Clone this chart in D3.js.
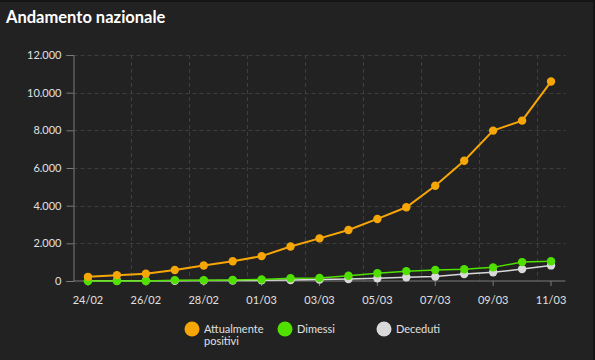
<!DOCTYPE html>
<html>
<head>
<meta charset="utf-8">
<script src="https://cdn.jsdelivr.net/npm/d3@7"></script>
<style>
  html, body { margin: 0; padding: 0; background: #222222; }
  svg { display: block; }
  .axis text { fill: #e0e0e0; font-family: Lato, 'Open Sans', sans-serif; font-size: 11px; }
</style>
</head>
<body>
<svg id="chart"></svg>
<script>
const W = 595
const H = 360
const margin = { top: 55, left: 73.5, right: 29.5, bottom: 79 }

// data
const dates = ['24/02', '25/02', '26/02', '27/02', '28/02', '29/02', '01/03', '02/03', '03/03',
  '04/03', '05/03', '06/03', '07/03', '08/03', '09/03', '10/03', '11/03']
const positivi = [221, 311, 385, 588, 821, 1049, 1320, 1835, 2263, 2706, 3296, 3916, 5061, 6387, 7985, 8514, 10590]
const dimessi = [1, 1, 3, 45, 46, 50, 83, 149, 160, 276, 414, 523, 589, 622, 724, 1004, 1045]
const deceduti = [7, 10, 12, 17, 21, 29, 34, 52, 79, 107, 148, 197, 233, 366, 463, 631, 827]
const yTicks = [0, 2000, 4000, 6000, 8000, 10000, 12000]
const xTickLabels = ['24/02', '26/02', '28/02', '01/03', '03/03', '05/03', '07/03', '09/03', '11/03']
const seriesNames = ['Attualmente positivi', 'Dimessi', 'Deceduti']
const colors = ['#f7a608', '#50e000', '#d9d9d9']

const svg = d3.select('#chart').attr('width', W).attr('height', H)

// frame
svg.append('rect').attr('width', W).attr('height', H).attr('fill', '#222222')
svg.append('rect').attr('width', W).attr('height', 2).attr('fill', '#141414')
svg.append('rect').attr('x', W - 2).attr('width', 2).attr('height', H).attr('fill', '#141414')

svg.append('text')
  .text('Andamento nazionale')
  .attr('x', 6)
  .attr('y', 23)
  .attr('fill', '#ffffff')
  .attr('font-family', 'Lato, "Open Sans", sans-serif')
  .attr('font-weight', 'bold')
  .attr('font-size', 16.5)

// scales
const xBand = d3.scaleBand().domain(dates).range([margin.left, W - margin.right])
const x = d => xBand(d) + xBand.bandwidth() / 2
const y = d3.scaleLinear().domain([0, 12000]).range([H - margin.bottom, margin.top])
const fmt = d3.formatLocale({ decimal: ',', thousands: '.', grouping: [3], currency: ['€', ''] }).format(',d')

// grid
const grid = svg.append('g').attr('stroke', '#3e3e3e').attr('stroke-dasharray', '4,3').attr('stroke-width', 1)
grid.selectAll('line.h')
  .data(yTicks.filter(d => d > 0))
  .enter().append('line')
  .attr('x1', margin.left).attr('x2', W - margin.right)
  .attr('y1', d => Math.round(y(d)) + 0.5).attr('y2', d => Math.round(y(d)) + 0.5)
grid.selectAll('line.v')
  .data(xTickLabels.slice(1))
  .enter().append('line')
  .attr('x1', d => Math.round(xBand(d)) + 0.5).attr('x2', d => Math.round(xBand(d)) + 0.5)
  .attr('y1', margin.top).attr('y2', H - margin.bottom)

// axes
const yAxis = svg.append('g')
  .attr('class', 'axis')
  .attr('transform', 'translate(' + margin.left + ',0)')
  .call(d3.axisLeft(y).tickValues(yTicks).tickFormat(fmt).tickSize(7).tickPadding(5))
yAxis.selectAll('line, path').attr('stroke', '#7a7a7a')

const xAxis = svg.append('g')
  .attr('class', 'axis')
  .attr('transform', 'translate(0,' + (H - margin.bottom) + ')')
xAxis.append('line')
  .attr('x1', margin.left).attr('x2', W - margin.right)
  .attr('stroke', '#7a7a7a')
const xt = xAxis.selectAll('g.tick')
  .data(xTickLabels)
  .enter().append('g')
  .attr('class', 'tick')
  .attr('transform', d => 'translate(' + x(d) + ',0)')
xt.append('line').attr('y2', 5).attr('stroke', '#7a7a7a')
xt.append('text').text(d => d).attr('y', 23).attr('text-anchor', 'middle')

// series
const allSeries = [positivi, dimessi, deceduti]
const line = d3.line().x((d, i) => x(dates[i])).y(d => y(d))
const order = [2, 1, 0]
order.forEach(k => {
  const vals = allSeries[k]
  svg.append('path')
    .datum(vals)
    .attr('d', line)
    .attr('fill', 'none')
    .attr('stroke', colors[k])
    .attr('stroke-width', k === 0 ? 2 : 1.5)
  svg.append('g').selectAll('circle')
    .data(vals)
    .enter().append('circle')
    .attr('cx', (d, i) => x(dates[i]))
    .attr('cy', d => y(d))
    .attr('r', 4.2)
    .attr('fill', colors[k])
})

// legend
const legendX = [192, 285, 384]
const legend = svg.append('g')
  .attr('font-family', 'Lato, "Open Sans", sans-serif')
  .attr('font-size', 11)
  .attr('fill', '#e0e0e0')
seriesNames.forEach((name, i) => {
  legend.append('circle')
    .attr('cx', legendX[i]).attr('cy', 329)
    .attr('r', 7.5)
    .attr('fill', colors[i])
  const t = legend.append('text').attr('x', legendX[i] + 12).attr('y', 333)
  if (i === 0) {
    t.append('tspan').text('Attualmente')
    t.append('tspan').attr('x', legendX[i] + 12).attr('dy', 12).text('positivi')
  } else {
    t.text(name)
  }
})
</script>
</body>
</html>
